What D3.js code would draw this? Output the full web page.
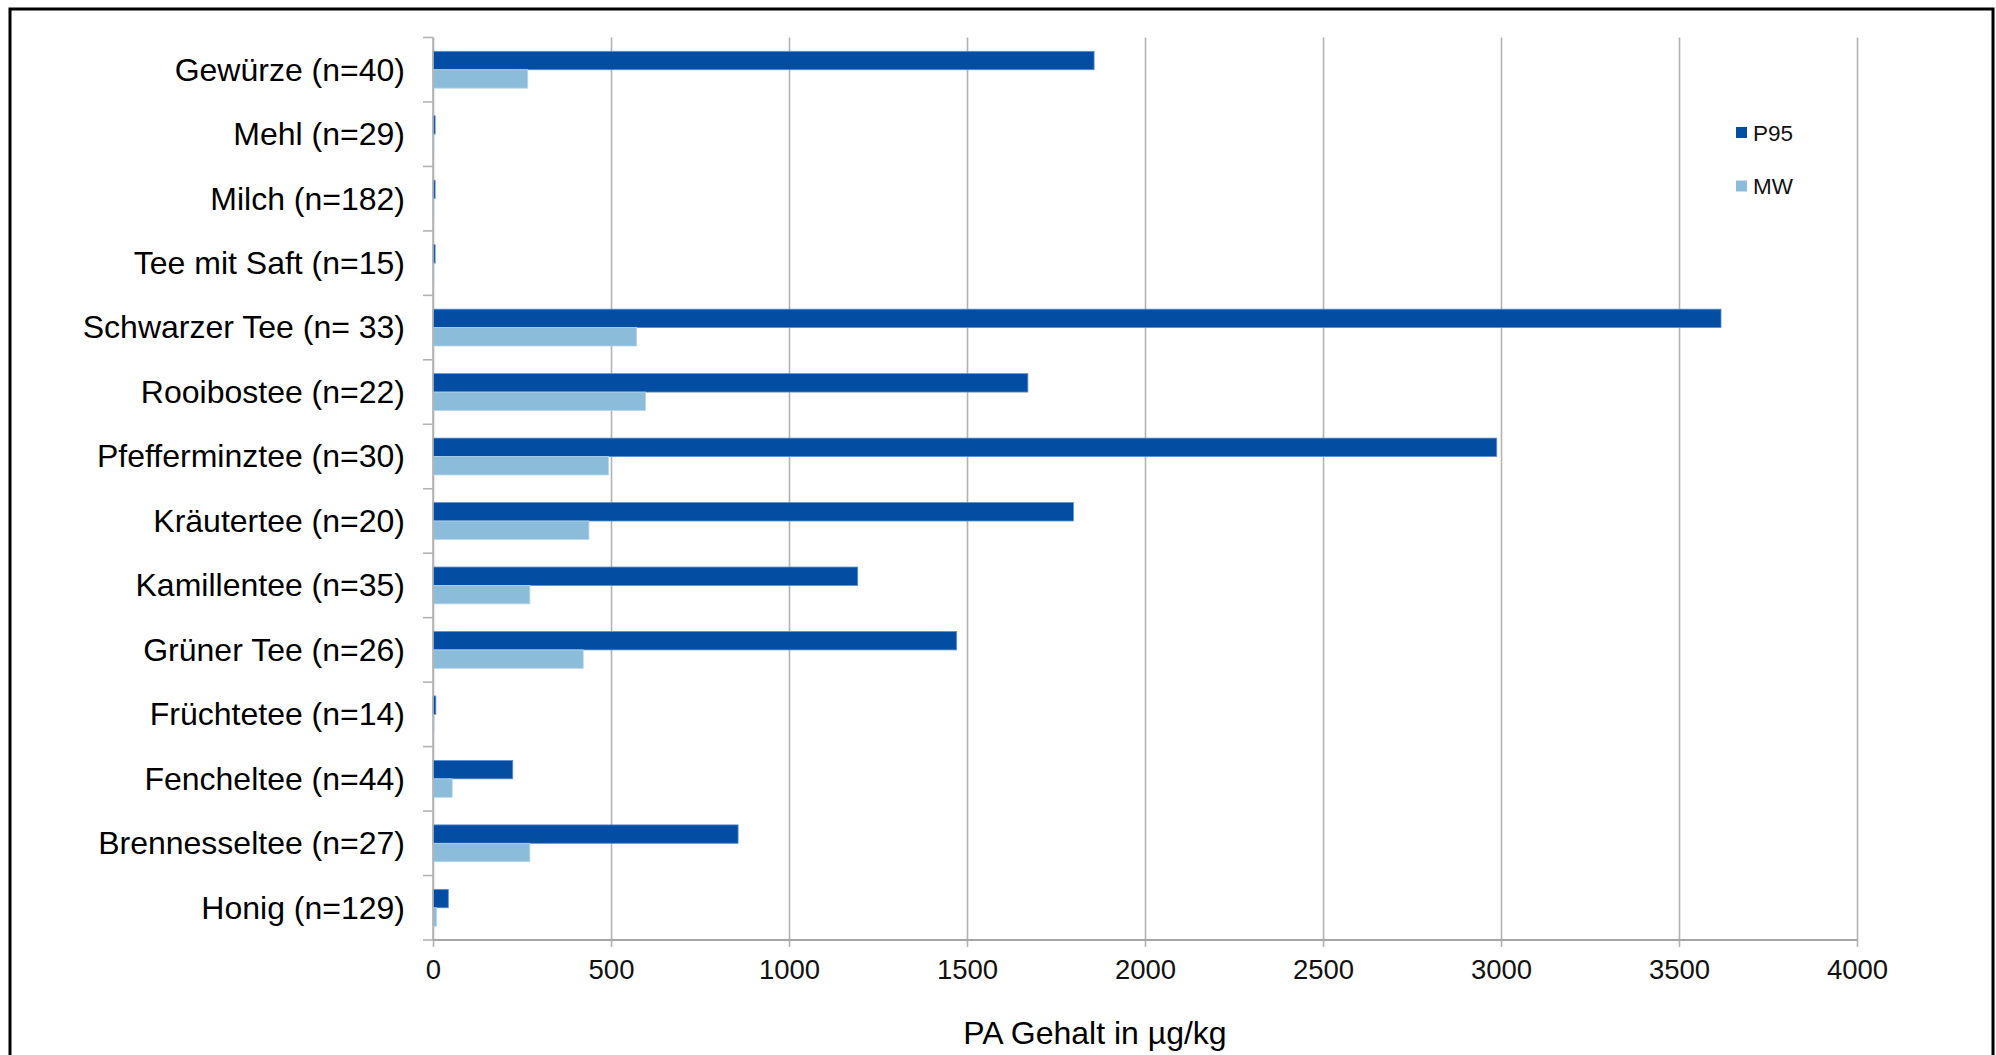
<!DOCTYPE html>
<html lang="de">
<head>
<meta charset="utf-8">
<title>PA Gehalt in Lebensmitteln</title>
<script src="https://cdn.jsdelivr.net/npm/d3@7"></script>
<style>
  html, body { margin: 0; padding: 0; background: #fff; }
  svg { display: block; font-family: "Liberation Sans", Arial, Helvetica, sans-serif; }
</style>
</head>
<body>
<svg id="chart" width="1996" height="1055"></svg>
<script>
// Lebensmittelgruppen (von oben nach unten)
const categories = [
  "Gewürze (n=40)",
  "Mehl (n=29)",
  "Milch (n=182)",
  "Tee mit Saft (n=15)",
  "Schwarzer Tee (n= 33)",
  "Rooibostee (n=22)",
  "Pfefferminztee (n=30)",
  "Kräutertee (n=20)",
  "Kamillentee (n=35)",
  "Grüner Tee (n=26)",
  "Früchtetee (n=14)",
  "Fencheltee (n=44)",
  "Brennesseltee (n=27)",
  "Honig (n=129)"
];

// 95. Perzentil, µg/kg
const p95 = [1857, 6, 6, 6, 3618, 1671, 2988, 1799, 1193, 1471, 8, 224, 857, 43];
// Mittelwert, µg/kg
const mw  = [266, 2, 2, 2, 572, 597, 493, 438, 272, 422, 3, 54, 272, 10];

const seriesNames = ["P95", "MW"];
const xTicks = [0, 500, 1000, 1500, 2000, 2500, 3000, 3500, 4000];

const colors = { P95: "#034ea2", MW: "#8bbdda" };
const strokes = { P95: "#5d8fcf", MW: "#b5d5ea" };

const rows = categories.map((c, i) => ({ cat: c, P95: p95[i], MW: mw[i] }));

const svg = d3.select("#chart");
const plotLeft = 433, plotRight = 1857, plotTop = 37.5, plotBottom = 940;

const x = d3.scaleLinear().domain([0, 4000]).range([plotLeft, plotRight]);
const y = d3.scaleBand().domain(categories).range([plotTop, plotBottom]).padding(0);
const ySub = d3.scaleBand().domain(seriesNames).range([0, y.bandwidth()])
  .paddingInner(0).paddingOuter(0.75);

// äußerer Rahmen
svg.append("rect")
  .attr("x", 10).attr("y", 9).attr("width", 1983).attr("height", 1080)
  .attr("fill", "none").attr("stroke", "#000").attr("stroke-width", 3);

// vertikale Gitterlinien und x-Achse
const xAxis = d3.axisBottom(x).tickValues(xTicks).tickSize(plotBottom - plotTop + 7)
  .tickPadding(12).tickFormat(d3.format("d"));
const gx = svg.append("g").attr("transform", `translate(0,${plotTop})`).call(xAxis);
gx.select(".domain").remove();
gx.selectAll(".tick line").attr("stroke", "#b3b3b3").attr("stroke-width", 1.6);
gx.selectAll(".tick text").attr("font-size", 27.5).attr("fill", "#111");

// Balken
const groups = svg.append("g").selectAll("g").data(rows).join("g")
  .attr("transform", d => `translate(0,${y(d.cat)})`);
groups.selectAll("rect").data(d => seriesNames.map(s => ({ s, v: d[s] }))).join("rect")
  .attr("x", x(0))
  .attr("y", d => ySub(d.s))
  .attr("width", d => Math.max(x(d.v) - x(0), 1))
  .attr("height", ySub.bandwidth())
  .attr("fill", d => colors[d.s])
  .attr("stroke", d => strokes[d.s])
  .attr("stroke-width", 0.8);

// y-Achse mit Kategoriebeschriftungen
const yAxis = d3.axisLeft(y).tickSize(0).tickPadding(28);
const gy = svg.append("g").attr("transform", `translate(${plotLeft},0)`).call(yAxis);
gy.select(".domain").remove();
gy.selectAll(".tick text").attr("font-size", 32).attr("fill", "#000").attr("dy", "0.34em");

// Teilstriche an den Kategoriegrenzen
const boundaries = categories.map(c => y(c)).concat([plotBottom]);
svg.append("g").selectAll("line").data(boundaries).join("line")
  .attr("x1", plotLeft - 10).attr("x2", plotLeft)
  .attr("y1", d => d).attr("y2", d => d)
  .attr("stroke", "#b3b3b3").attr("stroke-width", 1.6);

// Achsenlinien
svg.append("line").attr("x1", plotLeft).attr("x2", plotLeft).attr("y1", plotTop).attr("y2", plotBottom)
  .attr("stroke", "#b3b3b3").attr("stroke-width", 1.6);
svg.append("line").attr("x1", plotLeft).attr("x2", plotRight).attr("y1", plotBottom).attr("y2", plotBottom)
  .attr("stroke", "#a6a6a6").attr("stroke-width", 2.2);

// Achsentitel
svg.append("text")
  .attr("x", 1095).attr("y", 1033).attr("dy", "0.35em")
  .attr("text-anchor", "middle").attr("font-size", 32).attr("fill", "#000")
  .text("PA Gehalt in µg/kg");

// Legende
const legend = svg.append("g").selectAll("g").data(seriesNames).join("g")
  .attr("transform", (d, i) => `translate(1736,${127 + i * 53.5})`);
legend.append("rect").attr("width", 11).attr("height", 11)
  .attr("fill", d => colors[d]);
legend.append("text").attr("x", 17).attr("y", 5.5).attr("dy", "0.36em")
  .attr("font-size", 22.5).attr("fill", "#111").text(d => d);
</script>
</body>
</html>
